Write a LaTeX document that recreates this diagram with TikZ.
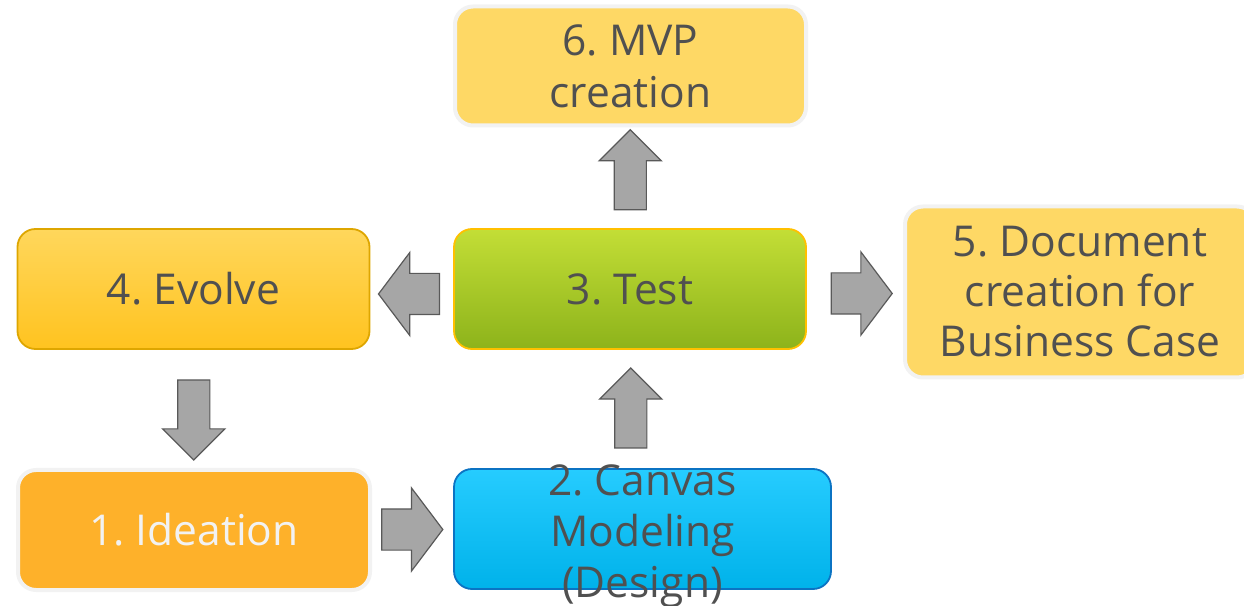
\documentclass[tikz,border=0pt]{standalone}
\usepackage{fontspec}
\setmainfont{Open Sans}
\usetikzlibrary{shapes.arrows,calc}

\definecolor{txtgray}{HTML}{505050}
\definecolor{paleyellow}{HTML}{FED865}
\definecolor{rimgray}{HTML}{F2F2F2}
\definecolor{ideaorange}{HTML}{FEB12A}
\definecolor{arrowgray}{HTML}{A6A6A6}
\definecolor{arrowline}{HTML}{595959}

\begin{document}
\frenchspacing
\begin{tikzpicture}[x=1pt,y=1pt,
    box/.style={rounded corners=18pt, minimum width=352pt, minimum height=120pt,
      align=center, text=txtgray, font=\fontsize{42.5}{50}\selectfont, inner sep=0pt,
      execute at begin node={\vspace*{6pt}}},
    lightbox/.style={box, fill=paleyellow, draw=rimgray, line width=4pt},
    harrow/.style={single arrow, draw=arrowline, fill=arrowgray, line width=1.2pt,
      minimum height=61pt, minimum width=0pt, inner xsep=0pt, inner ysep=20pt,
      single arrow head extend=21pt, single arrow tip angle=106},
    varrow/.style={harrow, minimum height=80pt, inner ysep=15.5pt,
      single arrow head extend=15pt, single arrow tip angle=90}]
  \clip (0,0) rectangle (1244,605);
  \useasboundingbox (0,0) rectangle (1244,605);

  % Boxes
  \node[box, draw={rgb,255:red,222;green,166;blue,0}, line width=1.8pt,
    top color={rgb,255:red,255;green,215;blue,92},
    bottom color={rgb,255:red,255;green,195;blue,31}] (n4) at (193.5,316) {4. Evolve};
  \node[box, draw={rgb,255:red,255;green,192;blue,0}, line width=1.8pt,
    top color={rgb,255:red,195;green,222;blue,54},
    bottom color={rgb,255:red,141;green,179;blue,27}] (n3) at (630,316) {3. Test};
  \node[lightbox, minimum width=351pt, minimum height=119pt, font=\fontsize{42.5}{52}\selectfont]
    (n6) at (630.5,539) {6. MVP\\creation};
  \node[lightbox, minimum width=350pt, minimum height=171pt] (n5) at (1080,313)
    {5. Document\\creation for\\Business Case};
  \node[box, fill=ideaorange, draw=rimgray, line width=4pt, text=rimgray] (n1) at (194,75) {1. Ideation};
  \node[box, minimum width=377pt, draw={rgb,255:red,11;green,115;blue,195}, line width=1.8pt,
    top color={rgb,255:red,38;green,204;blue,255},
    bottom color={rgb,255:red,0;green,178;blue,234},
    label={[align=center, yshift=-7pt, text=txtgray, font=\fontsize{42.5}{51}\selectfont]center:2. Canvas\\Modeling\\(Design)}]
    (n2) at (642.5,76) {};

  % Arrows
  \node[harrow, rotate=180] (a34) at ($(n3.west)!0.5!(n4.east)+(5,-5)$) {};
  \node[harrow] (a35) at ($(n3.east)!0.5!(n5.west)+(-1,-3)$) {};
  \node[varrow, rotate=90] (a36) at ($(n3.north)!0.5!(n6.south)$) {};
  \node[varrow, rotate=-90] (a41) at ($(n4.south)!0.5!(n1.north)+(0,-3)$) {};
  \node[harrow] (a12) at ($(n1.east)!0.5!(n2.west)+(-8,0)$) {};
  \node[varrow, rotate=90] (a23) at ($(n2.north)!0.5!(n3.south)+(-5.5,-7)$) {};
\end{tikzpicture}
\end{document}
